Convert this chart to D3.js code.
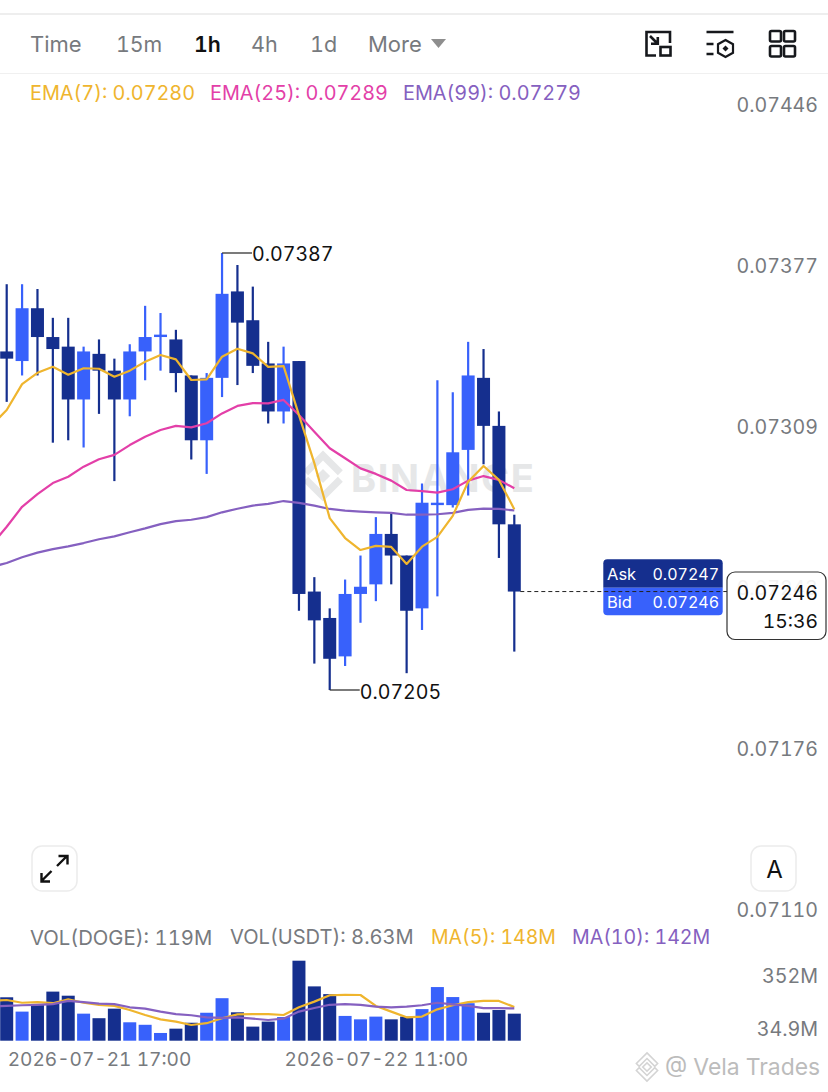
<!DOCTYPE html>
<html><head><meta charset="utf-8">
<script src="https://cdn.jsdelivr.net/npm/d3@7/dist/d3.min.js"></script>
<style>html,body{margin:0;padding:0;background:#fff}svg{display:block}text{font-family:Inter,"Noto Sans",sans-serif;font-variant-numeric:tabular-nums;font-feature-settings:"tnum" 1}</style>
</head><body><svg id="c" width="828" height="1092"></svg>
<script>
const opens =[.07346,.07342,.07364,.07352,.07348,.07326,.07345,.07338,.07326,.07346,.07352,.07351,.07336,.07309,.07335,.07371,.07359,.07341,.07321,.07342,.07246,.07235,.07219,.07245,.07249,.07270,.07261,.07239,.07282,.07282,.07305,.07335,.07315,.07274];
const highs =[.07374,.07374,.07372,.07360,.07360,.07348,.07351,.07343,.07349,.07365,.07362,.07355,.07336,.07337,.07387,.07382,.07373,.07350,.07348,.07342,.07252,.07239,.07251,.07261,.07277,.07279,.07261,.07291,.07334,.07329,.07350,.07347,.07321,.07278];
const lows  =[.07325,.07336,.07336,.07308,.07309,.07306,.07320,.07292,.07319,.07334,.07338,.07329,.07301,.07295,.07327,.07332,.07337,.07316,.07316,.07238,.07216,.07205,.07215,.07233,.07242,.07249,.07212,.07230,.07244,.07281,.07286,.07299,.07260,.07221];
const closes=[.07343,.07364,.07352,.07347,.07326,.07346,.07338,.07326,.07346,.07352,.07353,.07337,.07309,.07335,.07370,.07358,.07340,.07321,.07341,.07245,.07234,.07218,.07245,.07248,.07270,.07261,.07238,.07283,.07283,.07304,.07336,.07315,.07274,.07246];
// EMA series start one hour before the first visible candle
const ema7 =[.07315,.073216,.073324,.073371,.073396,.073363,.07339,.073388,.073355,.07338,.073417,.073445,.073427,.073341,.073344,.073438,.073471,.073452,.073396,.073399,.073195,.072995,.072766,.072683,.072633,.07265,.072646,.072575,.072647,.072688,.072775,.072917,.072983,.072925,.072803];
const ema25=[.072654,.07273,.072813,.072866,.072912,.072938,.07298,.073011,.073029,.07307,.073105,.073133,.07315,.073144,.073161,.073202,.073233,.073245,.073244,.073258,.073195,.073126,.073057,.073015,.072973,.07295,.072922,.072883,.072878,.072872,.072886,.072922,.072941,.072925,.07289];
const ema99=[.072562,.072579,.072603,.072622,.072637,.072648,.072662,.072678,.07269,.072707,.072723,.072741,.072753,.072759,.07277,.07279,.072805,.072818,.072825,.072837,.072829,.072818,.072804,.072797,.072793,.07279,.072788,.07278,.07278,.072782,.072788,.0728,.072805,.072804,.072798];
const volumes=[191,128,157,216,198,119,99,141,81,70,34,53,79,123,187,125,62,84,104,352,239,205,109,94,106,94,106,139,236,192,165,123,135,119];
const ma5 =[176,179,167,170,165,182,167,157,153,135,113,94,84,69,77,99,116,117,117,113,147,172,200,202,201,153,128,103,106,138,156,170,175,175,148];
const ma10=[150,153,156,158,161,175,170,163,161,147,141,128,117,112,103,100,103,97,91,97,128,144,158,161,158,150,147,150,156,167,160,153,143,143,142];
const priceTicks=["0.07446","0.07377","0.07309","0.07243","0.07176","0.07110"];
const volTicks=["352M","34.9M"];
const dateTicks=new Map([[6,"2026-07-21 17:00"],[24,"2026-07-22 11:00"]]);
const tabs=["Time","15m","1h","4h","1d","More"];
const emaLegend=["EMA(7): 0.07280","EMA(25): 0.07289","EMA(99): 0.07279"];
const volLegend=["VOL(DOGE): 119M","VOL(USDT): 8.63M","MA(5): 148M","MA(10): 142M"];

const DARK="#152f8e",LIGHT="#3861fb",YEL="#efb52e",PINK="#e33fa8",PUR="#8560c0",GREY="#777a7e";
const FONT='Inter,"Noto Sans",sans-serif';
const svg=d3.select("#c");
const x=d3.scaleLinear().domain([0,33]).range([6.7,514.3]);
const y=d3.scaleLinear().domain([.07205,.07387]).range([690,253]);
const yTick=d3.scalePoint().domain(priceTicks).range([104,909]);
const v=d3.scaleLinear().domain([0,352]).range([1040.7,960.7]);
const vTick=d3.scalePoint().domain(volTicks).range([975,1028]);
const BW=13;
const T=(sel,t,a,b,fs,fill,anchor,w)=>sel.append("text").attr("x",a).attr("y",b).attr("font-size",fs).attr("fill",fill).attr("text-anchor",anchor||"start").attr("dominant-baseline","central").attr("font-weight",w||400).text(t);

// top bars
svg.append("rect").attr("x",0).attr("y",13).attr("width",828).attr("height",2).attr("fill","#eeeeee");
svg.append("rect").attr("x",0).attr("y",73).attr("width",828).attr("height",1).attr("fill","#f0f0f0");
const tabX=[30,116,194,251,310,368];
const tabFs=[22,21.3,21.3,21.5,21.5,22];
tabs.forEach((t,i)=>T(svg,t,tabX[i],44,tabFs[i],t==="1h"?"#111":GREY,"start",t==="1h"?600:400));
svg.append("path").attr("d","M431 39H446L438.5 48Z").attr("fill","#8e8e8e");

// icons
const ic=svg.append("g").attr("fill","none").attr("stroke","#16181c").attr("stroke-width",2.6);
ic.append("path").attr("d","M656 55.5H646.5V32H670V43");
ic.append("rect").attr("x",660.5).attr("y",47).attr("width",10).attr("height",8.5);
ic.append("path").attr("d","M650 36L657.5 43.5M651 43.8H657.8V37");
ic.append("path").attr("d","M706.5 32H733.5M706.5 44H713.5M706.5 54H713.5");
ic.append("path").attr("d","M725.5 40L733 44.2V52.8L725.5 57L718 52.8V44.2Z").attr("stroke-width",2.2);
ic.append("path").attr("d","M725.5 45.5L728.5 48.5L725.5 51.5L722.5 48.5Z").attr("fill","#16181c").attr("stroke","none");
[[770,31],[784,31],[770,46],[784,46]].forEach(p=>ic.append("rect").attr("x",p[0]).attr("y",p[1]).attr("width",11).attr("height",10.5).attr("rx",1.5));

// legends
const emaCol=[YEL,PINK,PUR],emaX=[30,210,403];
emaLegend.forEach((t,i)=>T(svg,t,emaX[i],92.5,19.85,emaCol[i]));
const volCol=[GREY,GREY,YEL,PUR],volX=[30,230,431,572],volFs=[20.3,20.1,19.5,19.6];
volLegend.forEach((t,i)=>T(svg,t,volX[i],937,volFs[i],volCol[i]));

// watermark
const wm=svg.append("g").attr("fill","#e6e7e8");
wm.append("g").attr("transform","translate(323,476) rotate(45)").selectAll("path")
  .data(["M-5 -5H5V5H-5Z","M-18 -18H10V-11H-11V10H-18Z","M18 18H-10V11H11V-10H18Z"]).join("path").attr("d",d=>d);
T(wm,"BINANCE",351,478,38,"#e6e7e8","start",700).attr("letter-spacing",1.6);

// axes
const ax=svg.append("g").attr("transform","translate(818,0)").call(d3.axisLeft(yTick).tickSize(0).tickPadding(0));
ax.select(".domain").remove();
ax.selectAll("text").attr("font-size",19.6).attr("fill",GREY).attr("font-family",FONT).attr("dy",null).attr("dominant-baseline","central");
const ax2=svg.append("g").attr("transform","translate(818,0)").call(d3.axisLeft(vTick).tickSize(0).tickPadding(0));
ax2.select(".domain").remove();
ax2.selectAll("text").attr("font-size",19.7).attr("fill",GREY).attr("font-family",FONT).attr("dy",null).attr("dominant-baseline","central");
const ax3=svg.append("g").attr("transform","translate(0,1059)").call(d3.axisBottom(x).tickValues([...dateTicks.keys()]).tickFormat(d=>dateTicks.get(d)).tickSize(0).tickPadding(0));
ax3.select(".domain").remove();
ax3.selectAll("text").attr("font-size",19.1).attr("fill",GREY).attr("font-family",FONT).attr("dy",null).attr("y",0).attr("dominant-baseline","central");

// candles
const idx=d3.range(opens.length);
const col=i=>closes[i]>=opens[i]?LIGHT:DARK;
const g=svg.append("g");
g.selectAll(".w").data(idx).join("rect").attr("class","w").attr("x",i=>x(i)-1.1).attr("width",2.2)
 .attr("y",i=>y(highs[i])).attr("height",i=>y(lows[i])-y(highs[i])).attr("fill",col);
g.selectAll(".b").data(idx).join("rect").attr("class","b").attr("x",i=>x(i)-BW/2).attr("width",BW)
 .attr("y",i=>y(Math.max(opens[i],closes[i]))).attr("height",i=>Math.max(2,Math.abs(y(opens[i])-y(closes[i])))).attr("fill",col);

// lines
const lineIdx=d3.range(-1,34);
const drawLine=(arr,sc,c)=>svg.append("path").attr("fill","none").attr("stroke",c).attr("stroke-width",2.2).attr("stroke-linejoin","round")
  .attr("d",d3.line().x((d,i)=>x(lineIdx[i])).y(d=>sc(d))(arr));
drawLine(ema99,y,PUR);drawLine(ema25,y,PINK);drawLine(ema7,y,YEL);

// callouts
const hi=d3.max(highs),lo=d3.min(lows),hiI=highs.indexOf(hi),loI=lows.indexOf(lo);
svg.append("path").attr("fill","none").attr("stroke","#333").attr("stroke-width",1.3).attr("d",`M${x(hiI)} ${y(hi)}H${x(hiI)+30}`);
svg.append("path").attr("fill","none").attr("stroke","#333").attr("stroke-width",1.3).attr("d",`M${x(loI)} ${y(lo)}H${x(loI)+30}`);
T(svg,"0.07387",x(hiI)+30,y(hi)+1,19.6,"#111");
T(svg,"0.07205",x(loI)+30,y(lo)+2,19.6,"#111");

// ask / bid + price tag
svg.append("path").attr("d","M603.3 587.7V563.3a4 4 0 0 1 4-4H718.7a4 4 0 0 1 4 4V587.7Z").attr("fill",DARK);
svg.append("path").attr("d","M603.3 587.7V611.3a4 4 0 0 0 4 4H718.7a4 4 0 0 0 4-4V587.7Z").attr("fill",LIGHT);
svg.append("line").attr("x1",x(33)+6).attr("x2",727).attr("y1",y(closes[33])).attr("y2",y(closes[33])).attr("stroke","#222").attr("stroke-width",1).attr("stroke-dasharray","4 3");
T(svg,"Ask",607,574,16.5,"#fff");T(svg,"0.07247",719,574,16,"#fff","end");
T(svg,"Bid",607,602,16.5,"#fff");T(svg,"0.07246",719,602,16,"#fff","end");
svg.append("rect").attr("x",727).attr("y",572).attr("width",99).attr("height",67.5).attr("rx",8).attr("fill","#fff").attr("fill-opacity",.9).attr("stroke","#333").attr("stroke-width",1.2);
T(svg,"0.07246",818,592.5,19.6,"#111","end");
T(svg,"15:36",818,620.5,19.3,"#111","end");

// buttons
[[32,846],[751,846]].forEach(p=>svg.append("rect").attr("x",p[0]).attr("y",p[1]).attr("width",45).attr("height",45).attr("rx",10).attr("fill","#fff").attr("stroke","#ececec").attr("stroke-width",1.5));
svg.append("path").attr("fill","none").attr("stroke","#111").attr("stroke-width",2.4)
 .attr("d","M41.5 881L51.5 871M41.5 873V881.5H50M57 866L67 856M58.5 856H67.5V864.5");
T(svg,"A",774.5,869,24,"#111","middle");

// volume
const gv=svg.append("g");
gv.selectAll("rect").data(idx).join("rect").attr("x",i=>x(i)-BW/2).attr("width",BW)
 .attr("y",i=>v(volumes[i])).attr("height",i=>v(0)-v(volumes[i])).attr("fill",col);
drawLine(ma5,v,YEL);drawLine(ma10,v,PUR);

// credit
const cr=svg.append("g").attr("transform","translate(647,1067)").attr("fill","none").attr("stroke","#d4d4d4").attr("stroke-width",1.6);
cr.append("g").attr("transform","rotate(45)").selectAll("path")
 .data(["M-3 -3H3V3H-3Z","M-10 -10H5V-6H-6V5H-10Z","M10 10H-5V6H6V-5H10Z"]).join("path").attr("d",d=>d);
T(svg,"@ Vela Trades",665,1067,22.9,"#bcbcbc");
</script></body></html>
